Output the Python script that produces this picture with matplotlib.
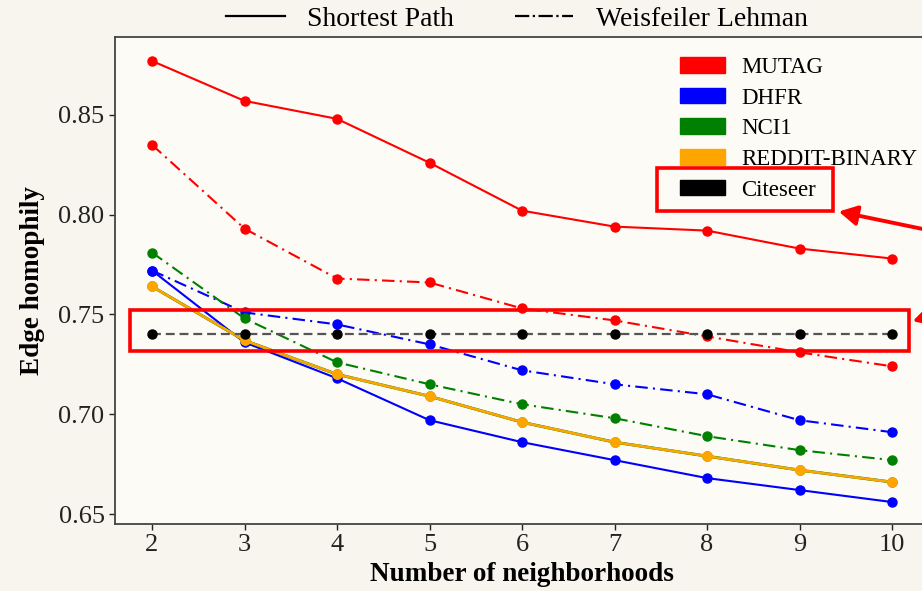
import matplotlib
matplotlib.use('Agg')
import matplotlib.pyplot as plt
import matplotlib.patches as mpatches
from matplotlib.lines import Line2D
from matplotlib.patches import FancyArrowPatch, Rectangle

plt.rcParams['font.family'] = ['Liberation Serif', 'DejaVu Serif']

# Data
neighborhoods = [2, 3, 4, 5, 6, 7, 8, 9, 10]

mutag_sp = [0.877, 0.857, 0.848, 0.826, 0.802, 0.794, 0.792, 0.783, 0.778]
mutag_wl = [0.835, 0.793, 0.768, 0.766, 0.753, 0.747, 0.739, 0.731, 0.724]
dhfr_sp = [0.772, 0.736, 0.718, 0.697, 0.686, 0.677, 0.668, 0.662, 0.656]
dhfr_wl = [0.772, 0.751, 0.745, 0.735, 0.722, 0.715, 0.710, 0.697, 0.691]
nci1_sp = [0.764, 0.737, 0.720, 0.709, 0.696, 0.686, 0.679, 0.672, 0.666]
nci1_wl = [0.781, 0.748, 0.726, 0.715, 0.705, 0.698, 0.689, 0.682, 0.677]
reddit_sp = [0.764, 0.737, 0.720, 0.709, 0.696, 0.686, 0.679, 0.672, 0.666]
reddit_wl = [0.764, 0.737, 0.720, 0.709, 0.696, 0.686, 0.679, 0.672, 0.666]
citeseer = [0.740, 0.740, 0.740, 0.740, 0.740, 0.740, 0.740, 0.740, 0.740]

datasets = ['MUTAG', 'DHFR', 'NCI1', 'REDDIT-BINARY', 'Citeseer']
colors = ['red', 'blue', 'green', 'orange', 'black']

W, H = 922, 591
fig = plt.figure(figsize=(W / 100, H / 100), dpi=100)
fig.patch.set_facecolor('#f8f5ee')


def px(x, y):
    return x / W, 1 - y / H


ax = fig.add_axes([115 / W, 1 - 524 / H, (929 - 115) / W, (524 - 37) / H])
ax.set_facecolor('#fdfbf6')

lw = 1.5
ms = 6.5
ax.plot(neighborhoods, mutag_sp, color='red', ls='-', lw=lw, marker='o', ms=ms)
ax.plot(neighborhoods, mutag_wl, color='red', ls=(0, (6, 2.5, 1, 2.5)), lw=lw, marker='o', ms=ms)
ax.plot(neighborhoods, dhfr_sp, color='blue', ls='-', lw=lw, marker='o', ms=ms)
ax.plot(neighborhoods, dhfr_wl, color='blue', ls=(0, (6, 2.5, 1, 2.5)), lw=lw, marker='o', ms=ms)
ax.plot(neighborhoods, nci1_sp, color='green', ls='-', lw=lw + 0.6, marker='o', ms=ms)
ax.plot(neighborhoods, nci1_wl, color='green', ls=(0, (6, 2.5, 1, 2.5)), lw=lw, marker='o', ms=ms)
ax.plot(neighborhoods, reddit_wl, color='orange', ls='-.', lw=lw, marker='o', ms=ms)
ax.plot(neighborhoods, reddit_sp, color='orange', ls='-', lw=lw + 0.3, marker='o', ms=ms)
ax.plot(neighborhoods, citeseer, color='#555555', ls=(0, (4, 2.2)), lw=1.6,
        marker='o', ms=ms, mfc='black', mec='black', zorder=4)

ax.set_xlim(1.6, 10.4)
ax.set_ylim(0.645, 0.889)
ax.set_xticks(neighborhoods)
ax.set_yticks([0.65, 0.70, 0.75, 0.80, 0.85])
ax.set_yticklabels(['0.65', '0.70', '0.75', '0.80', '0.85'])
ax.tick_params(labelsize=19, length=4, width=1, colors='#222222')
for s in ax.spines.values():
    s.set_color('#444444')
    s.set_linewidth(1.3)

ax.set_xlabel('Number of neighborhoods', fontsize=19.5, fontweight='bold', labelpad=4)
ax.set_ylabel('Edge homophily', fontsize=19.5, fontweight='bold', labelpad=10)

# dataset colour legend
handles = [mpatches.Patch(color=c, label=d) for d, c in zip(datasets, colors)]
leg = ax.legend(handles=handles, loc='upper left', bbox_to_anchor=px(680, 57),
                bbox_transform=fig.transFigure, frameon=False, fontsize=16.5,
                handlelength=1.95, handleheight=0.68, handletextpad=0.72,
                labelspacing=0.42, borderpad=0, borderaxespad=0)

# line style legend
style_handles = [Line2D([], [], color='black', ls='-', lw=1.6),
                 Line2D([], [], color='black', ls='-.', lw=1.6)]
fig.legend(style_handles, ['Shortest Path', 'Weisfeiler Lehman'],
           loc='center', bbox_to_anchor=px(517, 19), ncol=2, frameon=False,
           fontsize=20, handlelength=2.1, handletextpad=0.8, columnspacing=2.2,
           borderpad=0)

# red highlight boxes and arrows
boxes = [(657, 168, 833, 211), (130, 310, 909, 351)]
for x0, y0, x1, y1 in boxes:
    fx0, fy1 = px(x0, y1)
    fx1, fy0 = px(x1, y0)
    fig.patches.append(Rectangle((fx0, fy1), fx1 - fx0, fy0 - fy1,
                                 transform=fig.transFigure, fill=False,
                                 edgecolor='red', lw=2.6, zorder=10))

arrows = [((1000, 245), (836, 211)), ((1000, 295), (910, 322))]
for start, end in arrows:
    fig.patches.append(FancyArrowPatch(px(*start), px(*end), transform=fig.transFigure,
                                       arrowstyle='-|>,head_length=11,head_width=6',
                                       color='red', lw=2.8, zorder=10))

fig.savefig('out.png', dpi=100, facecolor=fig.get_facecolor())
